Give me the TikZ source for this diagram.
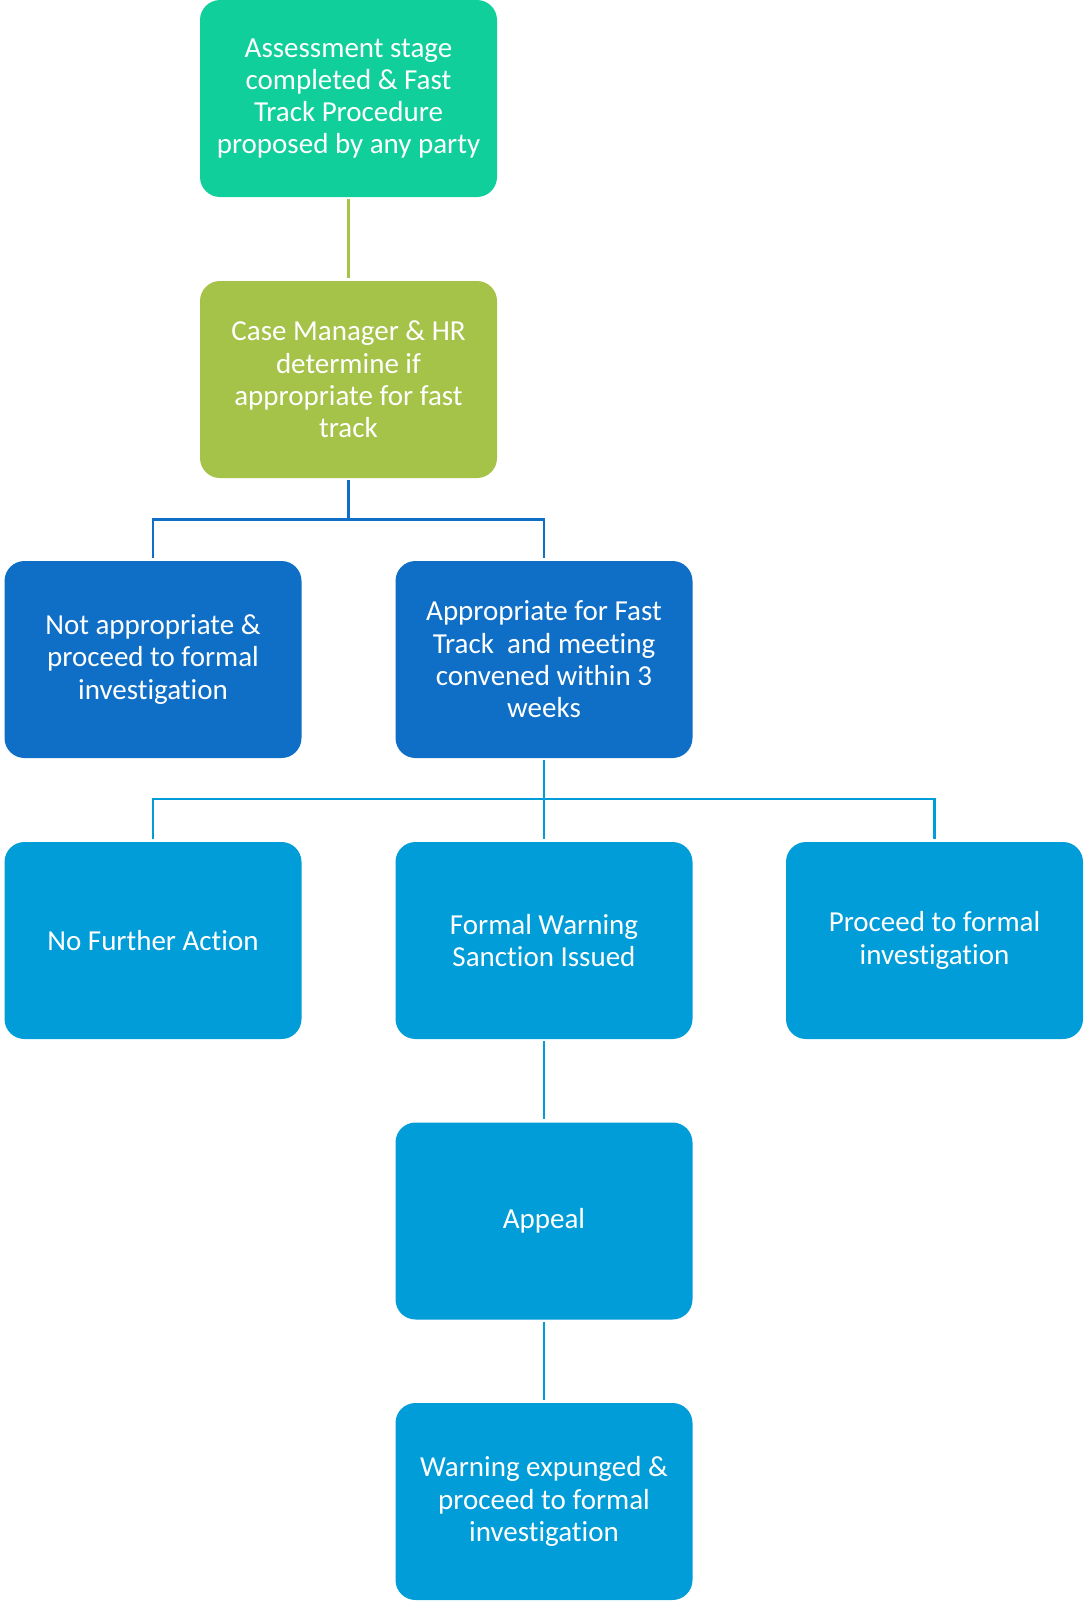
\documentclass[tikz,border=0pt]{standalone}
\usepackage{fontspec}
\setmainfont{Carlito}[Ligatures=NoCommon]
\definecolor{fastgreen}{HTML}{10CF9B}
\definecolor{olivegreen}{HTML}{A5C249}
\definecolor{deepblue}{HTML}{0F6FC6}
\definecolor{skyblue}{HTML}{009DD9}

\begin{document}
\begin{tikzpicture}[x=1pt,y=1pt,
  box/.style={rectangle, rounded corners=20pt, minimum width=297pt, minimum height=197pt,
    inner sep=0pt, text=white, align=center, font=\fontsize{29}{32.3}\selectfont},
  link/.style={line width=2.5pt, shorten <=2pt, shorten >=3pt}]
\useasboundingbox (0,0) rectangle (1085,-1601);

\node[box, fill=fastgreen] (1) at (348.5,-98.5) {Assessment stage\\completed \& Fast\\Track Procedure\\proposed by any party};
\node[box, fill=olivegreen] (2) at (348.5,-379.5) {Case Manager \& HR\\determine if\\appropriate for fast\\track};
\node[box, fill=deepblue] (3) at (153,-659.5) {Not appropriate \&\\proceed to formal\\investigation};
\node[box, fill=deepblue] (4) at (544,-659.5) {Appropriate for Fast\\Track~ and meeting\\convened within 3\\weeks};
\node[box, fill=skyblue] (5) at (153,-940.5) {No Further Action};
\node[box, fill=skyblue] (6) at (544,-940.5) {Formal Warning\\Sanction Issued};
\node[box, fill=skyblue] (7) at (934.5,-940.5) {Proceed to formal\\investigation};
\node[box, fill=skyblue] (8) at (544,-1221) {Appeal};
\node[box, fill=skyblue] (9) at (544,-1501.5) {Warning expunged \&\\proceed to formal\\investigation};

\path[draw,link,olivegreen] (1) -- (2);
\path[draw,link,deepblue] (2.south) -- ++(0,-41.5) -| (3.north);
\path[draw,link,deepblue] (2.south) -- ++(0,-41.5) -| (4.north);
\path[draw,link,skyblue] (4.south) -- ++(0,-41) -| (5.north);
\path[draw,link,skyblue] (4.south) -- (6.north);
\path[draw,link,skyblue] (4.south) -- ++(0,-41) -| (7.north);
\path[draw,link,skyblue] (6) -- (8);
\path[draw,link,skyblue] (8) -- (9);
\end{tikzpicture}
\end{document}
